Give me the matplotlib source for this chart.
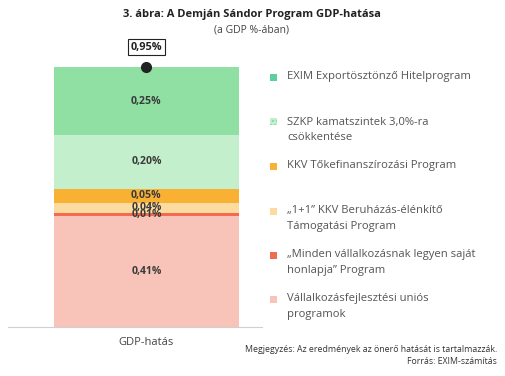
import matplotlib.pyplot as plt
from matplotlib.patches import Rectangle

plt.rcParams['font.family'] = ['Open Sans', 'DejaVu Sans']

# data, bottom to top
programs = [
    'Vállalkozásfejlesztési uniós\nprogramok',
    '„Minden vállalkozásnak legyen saját\nhonlapja” Program',
    '„1+1” KKV Beruházás-élénkítő\nTámogatási Program',
    'KKV Tőkefinanszírozási Program',
    'SZKP kamatszintek 3,0%-ra\ncsökkentése',
    'EXIM Exportösztönző Hitelprogram',
]
values = [0.41, 0.01, 0.04, 0.05, 0.20, 0.25]
value_labels = ['0,41%', '0,01%', '0,04%', '0,05%', '0,20%', '0,25%']
total_label = '0,95%'
category = 'GDP-hatás'

colors = ['#f8c3b9', '#f26a50', '#fcdba0', '#f8b133', '#c3efcc', '#8fe0a2']
legend_colors = ['#f8c3b9', '#f26a50', '#fcdba0', '#f8b133', '#c3efcc', '#5ecf9c']

W, H = 506, 376
fig = plt.figure(figsize=(W / 100, H / 100), dpi=100)

# axes in pixel coords
ax_left, ax_right, ax_bottom, ax_top = 8, 262, 327, 40
px_per_unit = 270.5
ax = fig.add_axes([ax_left / W, 1 - ax_bottom / H,
                   (ax_right - ax_left) / W, (ax_bottom - ax_top) / H])
ax.set_xlim(0, 1)
ax.set_ylim(0, (ax_bottom - ax_top) / px_per_unit)

xc = 0.545
bottom = 0
for v, c, lab in zip(values, colors, value_labels):
    ax.bar(xc, v, width=0.728, bottom=bottom, color=c, linewidth=0)
    ax.text(xc, bottom + v / 2, lab, ha='center', va='center',
            fontsize=7.6, fontweight='bold', color='#3a3a3a')
    bottom += v

ax.plot([xc], [bottom], 'o', color='#222222', markersize=7, zorder=5)
ax.annotate(total_label, (xc, bottom), xytext=(0, 14.5), textcoords='offset points',
            ha='center', va='center', fontsize=7.8, fontweight='bold', color='#222222',
            bbox=dict(boxstyle='square,pad=0.25', fc='white', ec='#222222', lw=0.8))

for s in ['left', 'right', 'top']:
    ax.spines[s].set_visible(False)
ax.spines['bottom'].set_color('#d0d0d0')
ax.set_yticks([])
ax.set_xticks([xc])
ax.set_xticklabels([category], fontsize=8, color='#444444')
ax.tick_params(axis='x', length=0, pad=7)

# title
fig.text(252 / W, 1 - 15 / H, '3. ábra: A Demján Sándor Program GDP-hatása',
         ha='center', va='center', fontsize=8, fontweight='bold', color='#222222')
fig.text(252 / W, 1 - 30 / H, '(a GDP %-ában)', ha='center', va='center',
         fontsize=7.5, color='#444444')

# legend, drawn top to bottom
legend_y = [77, 122, 166, 211, 255, 299]
for y, name, c in zip(legend_y, programs[::-1], legend_colors[::-1]):
    hatched = name.startswith('SZKP')
    fig.patches.append(Rectangle((270 / W, 1 - (y + 3.5) / H), 7 / W, 7 / H,
                                 transform=fig.transFigure, facecolor=c,
                                 edgecolor='#7fd9a0' if hatched else 'none',
                                 hatch='....' if hatched else None, lw=0))
    fig.text(287 / W, 1 - (y - 5.5) / H, name, ha='left', va='top',
             fontsize=8.1, color='#555555', linespacing=1.55)

fig.text(497 / W, 1 - 350 / H,
         'Megjegyzés: Az eredmények az önerő hatását is tartalmazzák.',
         ha='right', va='center', fontsize=6.3, color='#333333')
fig.text(497 / W, 1 - 361 / H, 'Forrás: EXIM-számítás',
         ha='right', va='center', fontsize=6.3, color='#333333')

fig.savefig('out.png', dpi=100)
